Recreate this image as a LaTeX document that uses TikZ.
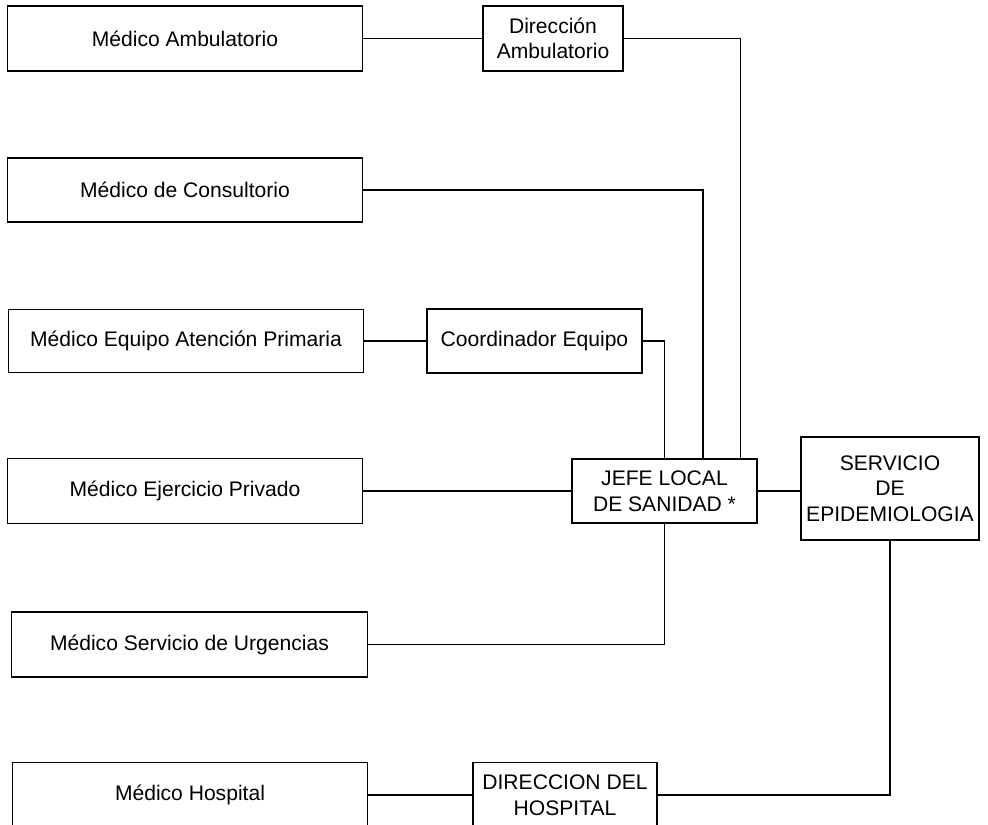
\documentclass[tikz,border=0pt]{standalone}
\usepackage{fontspec}
\setmainfont{Liberation Sans}
\tikzset{caja/.style={draw,line width=0.6pt,align=center,inner sep=0pt,
  font=\fontsize{12}{14.5}\selectfont},
  enlace/.style={line width=0.6pt}}
\begin{document}
\begin{tikzpicture}[x=0.02cm,y=-0.02cm]
\path[use as bounding box,clip] (0,0) rectangle (988,825);

\node [caja,minimum width=7.12cm,minimum height=1.3cm] (amb) at (185,38.5) {Médico Ambulatorio};
\node [caja,minimum width=2.8cm,minimum height=1.3cm] (diramb) at (553,38.5) {Dirección\\Ambulatorio};
\node [caja,minimum width=7.12cm,minimum height=1.28cm] (cons) at (185,190) {Médico de Consultorio};
\node [caja,minimum width=7.12cm,minimum height=1.26cm] (eap) at (186,341) {Médico Equipo Atención Primaria};
\node [caja,minimum width=4.3cm,minimum height=1.28cm] (coord) at (534.5,341) {Coordinador Equipo};
\node [caja,minimum width=7.12cm,minimum height=1.3cm] (priv) at (185,491) {Médico Ejercicio Privado};
\node [caja,minimum width=3.7cm,minimum height=1.28cm] (jefe) at (664.5,491) {JEFE LOCAL\\DE SANIDAD *};
\node [caja,minimum width=3.56cm,minimum height=2.06cm] (epi) at (890,488.5) {SERVICIO\\DE\\EPIDEMIOLOGIA};
\node [caja,minimum width=7.14cm,minimum height=1.3cm] (urg) at (189.5,644.5) {Médico Servicio de Urgencias};
\node [caja,minimum width=7.12cm,minimum height=1.3cm] (hosp) at (190,795) {Médico Hospital};
\node [caja,minimum width=3.68cm,minimum height=1.3cm] (dirhosp) at (565,795) {DIRECCION DEL\\HOSPITAL};

\draw [enlace] (amb.east) -- (diramb.west);
\draw [enlace] (diramb.east) -| ([xshift=1.52cm]jefe.north);
\draw [enlace] (cons.east) -| ([xshift=0.77cm]jefe.north);
\draw [enlace] (eap.east) -- (coord.west);
\draw [enlace] (coord.east) -| (jefe.north);
\draw [enlace] (priv.east) -- (jefe.west);
\draw [enlace] (jefe.south) |- (urg.east);
\draw [enlace] (jefe.east) -- (jefe.east -| epi.west);
\draw [enlace] (hosp.east) -- (dirhosp.west);
\draw [enlace] (dirhosp.east) -| (epi.south);

\end{tikzpicture}
\end{document}
